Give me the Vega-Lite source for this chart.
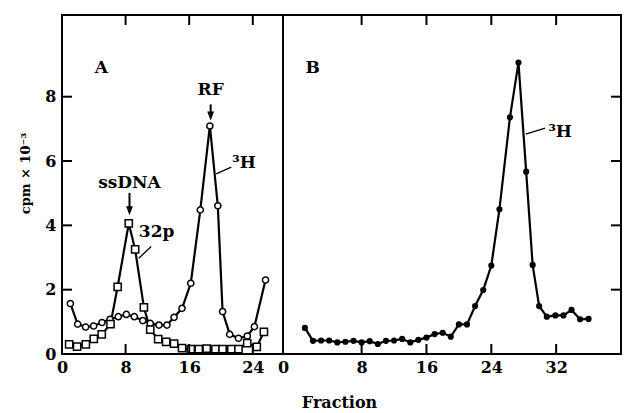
{
  "$schema": "https://vega.github.io/schema/vega-lite/v6.json",
  "padding": {"left": 18, "top": 14, "right": 4, "bottom": 4},
  "spacing": 0,
  "bounds": "flush",
  "config": {
    "view": {"stroke": "black", "strokeWidth": 2},
    "axis": {
      "domain": false, "grid": false, "ticks": true, "tickColor": "black", "tickWidth": 2, "tickSize": -10, "tickOpacity": 0, "zindex": 2,
      "labelFont": "DejaVu Serif", "labelFontSize": 16, "labelFontWeight": "bold", "labelColor": "black",
      "labelPadding": 15, "labelFlush": false,
      "titleFont": "DejaVu Serif", "titleFontSize": 16, "titleFontWeight": "bold", "titleColor": "black"
    }
  },
  "datasets": {
    "panelA": [
      {"f": 1.05, "v": 1.57, "iso": "3H"}, {"f": 1.97, "v": 0.93, "iso": "3H"}, {"f": 2.97, "v": 0.84, "iso": "3H"},
      {"f": 3.98, "v": 0.87, "iso": "3H"}, {"f": 5.03, "v": 0.98, "iso": "3H"}, {"f": 6.04, "v": 1.08, "iso": "3H"},
      {"f": 7.08, "v": 1.16, "iso": "3H"}, {"f": 8.1, "v": 1.23, "iso": "3H"}, {"f": 9.1, "v": 1.16, "iso": "3H"},
      {"f": 10.16, "v": 1.04, "iso": "3H"}, {"f": 11.1, "v": 0.95, "iso": "3H"}, {"f": 12.2, "v": 0.9, "iso": "3H"},
      {"f": 13.2, "v": 0.9, "iso": "3H"}, {"f": 14.1, "v": 1.14, "iso": "3H"}, {"f": 15.1, "v": 1.42, "iso": "3H"},
      {"f": 16.2, "v": 2.2, "iso": "3H"}, {"f": 17.4, "v": 4.48, "iso": "3H"}, {"f": 18.6, "v": 7.09, "iso": "3H"},
      {"f": 19.6, "v": 4.61, "iso": "3H"}, {"f": 20.2, "v": 1.32, "iso": "3H"}, {"f": 21.1, "v": 0.61, "iso": "3H"},
      {"f": 22.2, "v": 0.49, "iso": "3H"}, {"f": 23.3, "v": 0.56, "iso": "3H"}, {"f": 24.2, "v": 0.85, "iso": "3H"},
      {"f": 25.6, "v": 2.3, "iso": "3H"},
      {"f": 0.9, "v": 0.3, "iso": "32P"}, {"f": 1.9, "v": 0.23, "iso": "32P"}, {"f": 3.0, "v": 0.3, "iso": "32P"},
      {"f": 4.0, "v": 0.47, "iso": "32P"}, {"f": 5.0, "v": 0.61, "iso": "32P"}, {"f": 6.1, "v": 0.93, "iso": "32P"},
      {"f": 7.0, "v": 2.09, "iso": "32P"}, {"f": 8.4, "v": 4.06, "iso": "32P"}, {"f": 9.2, "v": 3.25, "iso": "32P"},
      {"f": 10.3, "v": 1.45, "iso": "32P"}, {"f": 11.1, "v": 0.76, "iso": "32P"}, {"f": 12.1, "v": 0.46, "iso": "32P"},
      {"f": 13.1, "v": 0.38, "iso": "32P"}, {"f": 14.1, "v": 0.32, "iso": "32P"}, {"f": 15.1, "v": 0.18, "iso": "32P"},
      {"f": 16.2, "v": 0.15, "iso": "32P"}, {"f": 17.2, "v": 0.15, "iso": "32P"}, {"f": 18.2, "v": 0.17, "iso": "32P"},
      {"f": 19.3, "v": 0.15, "iso": "32P"}, {"f": 20.2, "v": 0.15, "iso": "32P"}, {"f": 21.3, "v": 0.15, "iso": "32P"},
      {"f": 22.2, "v": 0.15, "iso": "32P"}, {"f": 23.3, "v": 0.34, "iso": "32P"}, {"f": 24.5, "v": 0.22, "iso": "32P"},
      {"f": 25.4, "v": 0.69, "iso": "32P"}
    ],
    "panelB": [
      {"f": 1, "v": 0.81}, {"f": 2, "v": 0.41}, {"f": 3, "v": 0.42}, {"f": 4, "v": 0.42}, {"f": 5, "v": 0.36},
      {"f": 6, "v": 0.38}, {"f": 7, "v": 0.41}, {"f": 8, "v": 0.36}, {"f": 9, "v": 0.4}, {"f": 10, "v": 0.31},
      {"f": 11, "v": 0.41}, {"f": 12, "v": 0.42}, {"f": 13, "v": 0.47}, {"f": 14, "v": 0.36}, {"f": 15, "v": 0.44},
      {"f": 16, "v": 0.51}, {"f": 17, "v": 0.62}, {"f": 18, "v": 0.66}, {"f": 19, "v": 0.54}, {"f": 20, "v": 0.92},
      {"f": 21, "v": 0.92}, {"f": 22, "v": 1.49}, {"f": 23, "v": 1.99}, {"f": 24, "v": 2.75}, {"f": 25, "v": 4.5},
      {"f": 26.3, "v": 7.36}, {"f": 27.35, "v": 9.06}, {"f": 28.3, "v": 5.67}, {"f": 29.1, "v": 2.77}, {"f": 29.9, "v": 1.49},
      {"f": 30.85, "v": 1.16}, {"f": 31.9, "v": 1.2}, {"f": 32.9, "v": 1.2}, {"f": 33.9, "v": 1.37}, {"f": 34.95, "v": 1.08},
      {"f": 36, "v": 1.09}
    ],
    "xTicksA": [{"f": 8}, {"f": 16}, {"f": 24}],
    "xTicksB": [{"f": 8}, {"f": 16}, {"f": 24}, {"f": 32}],
    "yTicks": [{"v": 2}, {"v": 4}, {"v": 6}, {"v": 8}],
    "textA": [
      {"f": 4.96, "v": 8.89, "label": "A"},
      {"f": 18.7, "v": 8.21, "label": "RF"},
      {"f": 8.49, "v": 5.31, "label": "ssDNA"},
      {"f": 11.9, "v": 3.8, "label": "32p"},
      {"f": 22.9, "v": 5.95, "label": "³H"}
    ],
    "leadA": [
      {"f": 11.22, "v": 3.34, "f2": 9.66, "v2": 2.98},
      {"f": 21.3, "v": 5.81, "f2": 19.4, "v2": 5.6}
    ],
    "arrowA": [
      {"f": 18.7, "v": 7.76, "v2": 7.4},
      {"f": 8.49, "v": 5.01, "v2": 4.45}
    ],
    "textB": [
      {"f": 1.95, "v": 8.88, "label": "B"},
      {"f": 32.49, "v": 6.91, "label": "³H"}
    ],
    "leadB": [
      {"f": 30.64, "v": 7.02, "f2": 28.25, "v2": 6.84}
    ]
  },
  "hconcat": [
    {
      "width": 221,
      "height": 339,
      "resolve": {"axis": {"x": "independent"}},
      "layer": [
        {
          "data": {"name": "panelA"},
          "mark": {"type": "line", "color": "black", "strokeWidth": 2.2},
          "encoding": {
            "x": {"field": "f", "type": "quantitative", "scale": {"domain": [0, 27.8], "nice": false, "zero": false},
                  "axis": {"orient": "bottom", "values": [0, 8, 16, 24], "title": null}},
            "y": {"field": "v", "type": "quantitative", "scale": {"domain": [0, 10.54], "nice": false},
                  "axis": {"orient": "left", "values": [0, 2, 4, 6, 8], "title": "cpm × 10⁻³", "titleFontSize": 13, "titlePadding": 12, "titleY": 158, "labelPadding": 16}},
            "detail": {"field": "iso"}
          }
        },
        {
          "data": {"name": "panelA"},
          "mark": {"type": "point", "filled": true, "fill": "white", "stroke": "black", "strokeWidth": 1.5, "opacity": 1},
          "encoding": {
            "x": {"field": "f", "type": "quantitative", "axis": null},
            "y": {"field": "v", "type": "quantitative"},
            "shape": {"field": "iso", "type": "nominal", "scale": {"domain": ["3H", "32P"], "range": ["circle", "square"]}, "legend": null},
            "size": {"field": "iso", "type": "nominal", "scale": {"domain": ["3H", "32P"], "range": [38, 52]}, "legend": null}
          }
        },
        {
          "data": {"name": "xTicksA"},
          "mark": {"type": "tick", "orient": "vertical", "size": 10, "thickness": 2, "color": "black", "opacity": 1, "yOffset": -5},
          "encoding": {
            "x": {"field": "f", "type": "quantitative", "axis": null},
            "y": {"datum": 0, "type": "quantitative"}
          }
        },
        {
          "data": {"name": "xTicksA"},
          "mark": {"type": "tick", "orient": "vertical", "size": 10, "thickness": 2, "color": "black", "opacity": 1, "yOffset": 5},
          "encoding": {
            "x": {"field": "f", "type": "quantitative", "axis": null},
            "y": {"datum": 10.54, "type": "quantitative"}
          }
        },
        {
          "data": {"name": "yTicks"},
          "mark": {"type": "tick", "orient": "horizontal", "size": 10, "thickness": 2, "color": "black", "opacity": 1, "xOffset": 5},
          "encoding": {
            "x": {"datum": 0, "type": "quantitative", "axis": null},
            "y": {"field": "v", "type": "quantitative"}
          }
        },
        {
          "data": {"name": "textA"},
          "mark": {"type": "text", "align": "center", "baseline": "middle", "font": "DejaVu Serif", "fontWeight": "bold", "fontSize": 17, "color": "black"},
          "encoding": {
            "x": {"field": "f", "type": "quantitative", "axis": null},
            "y": {"field": "v", "type": "quantitative"},
            "text": {"field": "label"}
          }
        },
        {
          "data": {"name": "leadA"},
          "mark": {"type": "rule", "color": "black", "strokeWidth": 1.3},
          "encoding": {
            "x": {"field": "f", "type": "quantitative", "axis": null},
            "y": {"field": "v", "type": "quantitative"},
            "x2": {"field": "f2"},
            "y2": {"field": "v2"}
          }
        },
        {
          "data": {"name": "arrowA"},
          "mark": {"type": "rule", "color": "black", "strokeWidth": 2},
          "encoding": {
            "x": {"field": "f", "type": "quantitative", "axis": null},
            "y": {"field": "v", "type": "quantitative"},
            "y2": {"field": "v2"}
          }
        },
        {
          "data": {"name": "arrowA"},
          "mark": {"type": "point", "shape": "M-0.75,-1L0.75,-1L0,1Z", "filled": true, "color": "black", "size": 81, "opacity": 1},
          "encoding": {
            "x": {"field": "f", "type": "quantitative", "axis": null},
            "y": {"field": "v2", "type": "quantitative"}
          }
        }
      ]
    },
    {
      "width": 338,
      "height": 339,
      "resolve": {"axis": {"x": "independent"}},
      "layer": [
        {
          "data": {"name": "panelB"},
          "mark": {"type": "line", "color": "black", "strokeWidth": 2.2},
          "encoding": {
            "x": {"field": "f", "type": "quantitative", "scale": {"domain": [-1.7, 40], "nice": false, "zero": false},
                  "axis": {"orient": "bottom", "values": [-1.7, 8, 16, 24, 32], "labelExpr": "datum.value < 0 ? '0' : datum.label",
                           "title": "Fraction", "titleX": 56, "titlePadding": 19}},
            "y": {"field": "v", "type": "quantitative", "scale": {"domain": [0, 10.54], "nice": false},
                  "axis": {"orient": "right", "values": [2, 4, 6, 8], "labels": false, "title": null}}
          }
        },
        {
          "data": {"name": "panelB"},
          "mark": {"type": "circle", "color": "black", "size": 38, "opacity": 1},
          "encoding": {
            "x": {"field": "f", "type": "quantitative", "axis": null},
            "y": {"field": "v", "type": "quantitative"}
          }
        },
        {
          "data": {"name": "xTicksB"},
          "mark": {"type": "tick", "orient": "vertical", "size": 10, "thickness": 2, "color": "black", "opacity": 1, "yOffset": -5},
          "encoding": {
            "x": {"field": "f", "type": "quantitative", "axis": null},
            "y": {"datum": 0, "type": "quantitative"}
          }
        },
        {
          "data": {"name": "xTicksB"},
          "mark": {"type": "tick", "orient": "vertical", "size": 10, "thickness": 2, "color": "black", "opacity": 1, "yOffset": 5},
          "encoding": {
            "x": {"field": "f", "type": "quantitative", "axis": null},
            "y": {"datum": 10.54, "type": "quantitative"}
          }
        },
        {
          "data": {"name": "yTicks"},
          "mark": {"type": "tick", "orient": "horizontal", "size": 10, "thickness": 2, "color": "black", "opacity": 1, "xOffset": -5},
          "encoding": {
            "x": {"datum": 40, "type": "quantitative", "axis": null},
            "y": {"field": "v", "type": "quantitative"}
          }
        },
        {
          "data": {"name": "textB"},
          "mark": {"type": "text", "align": "center", "baseline": "middle", "font": "DejaVu Serif", "fontWeight": "bold", "fontSize": 17, "color": "black"},
          "encoding": {
            "x": {"field": "f", "type": "quantitative", "axis": null},
            "y": {"field": "v", "type": "quantitative"},
            "text": {"field": "label"}
          }
        },
        {
          "data": {"name": "leadB"},
          "mark": {"type": "rule", "color": "black", "strokeWidth": 1.3},
          "encoding": {
            "x": {"field": "f", "type": "quantitative", "axis": null},
            "y": {"field": "v", "type": "quantitative"},
            "x2": {"field": "f2"},
            "y2": {"field": "v2"}
          }
        }
      ]
    }
  ]
}
